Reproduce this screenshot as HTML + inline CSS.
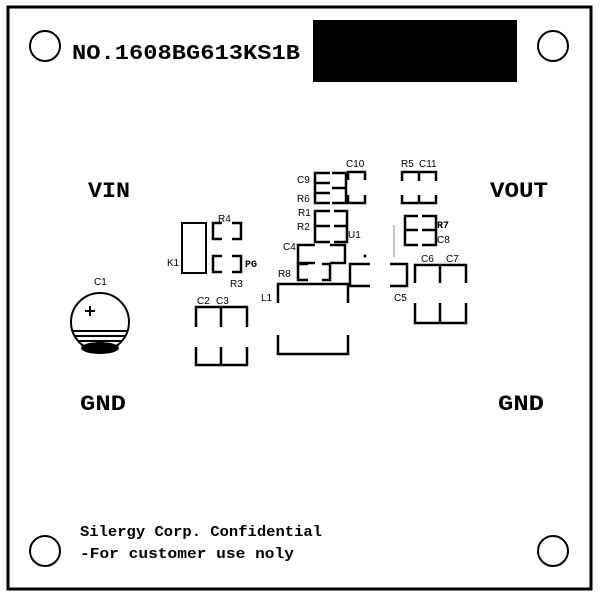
<!DOCTYPE html>
<html><head><meta charset="utf-8"><style>
html,body{margin:0;padding:0;background:#fff}
svg{display:block}
text{font-family:"Liberation Mono","DejaVu Sans Mono",monospace;font-weight:bold;fill:#000}
.s{font-family:"Liberation Sans",sans-serif;font-weight:normal;font-size:10px}
</style></head><body>
<svg width="600" height="600" viewBox="0 0 600 600" xmlns="http://www.w3.org/2000/svg">
<rect x="8" y="7" width="583" height="582" fill="none" stroke="#000" stroke-width="3"/>
<g fill="none" stroke="#000" stroke-width="2">
<circle cx="45" cy="46" r="15"/><circle cx="553" cy="46" r="15"/>
<circle cx="45" cy="551" r="15"/><circle cx="553" cy="551" r="15"/>
</g>
<rect x="313" y="20" width="204" height="62" fill="#000"/>
<text x="72" y="59" font-size="21" textLength="228" lengthAdjust="spacingAndGlyphs">NO.1608BG613KS1B</text>
<text x="88" y="197" font-size="22" textLength="42" lengthAdjust="spacingAndGlyphs">VIN</text>
<text x="490" y="197" font-size="22" textLength="58" lengthAdjust="spacingAndGlyphs">VOUT</text>
<text x="80" y="410" font-size="22" textLength="46" lengthAdjust="spacingAndGlyphs">GND</text>
<text x="498" y="410" font-size="22" textLength="46" lengthAdjust="spacingAndGlyphs">GND</text>
<text x="80" y="536" font-size="15" textLength="242" lengthAdjust="spacingAndGlyphs">Silergy Corp. Confidential</text>
<text x="80" y="558" font-size="15" textLength="214" lengthAdjust="spacingAndGlyphs">-For customer use noly</text>

<!-- C1 -->
<text class="s" x="94" y="285">C1</text>
<g fill="none" stroke="#000" stroke-width="2">
<circle cx="100" cy="322" r="29"/>
<path d="M85 311h10M90 306v10"/>
<path d="M72 331h56M74 336h52M78 341h44"/>
</g>
<ellipse cx="100" cy="348" rx="19" ry="6" fill="#000"/>

<g fill="none" stroke="#000" stroke-width="2.5">
<!-- K1 -->
<rect x="182" y="223" width="24" height="50" stroke-width="2"/>
<!-- R4 -->
<path d="M222 223h-9v16h9M232 223h9v16h-9"/>
<!-- R3 -->
<path d="M222 256h-9v16h9M232 256h9v16h-9"/>
<!-- C2 C3 -->
<path d="M196 327v-20h51v20M221 307v20M196 347v18h51v-18M221 347v18"/>
<!-- C9/R6 -->
<path d="M330 173h-15v10h15M330 193h-15v10h15M315 183v10"/>
<path d="M332 173h14v30h-14M332 188h14"/>
<!-- C10 -->
<path d="M348 180v-8h17v8M348 195v8h17v-8"/>
<!-- R1 R2 -->
<path d="M330 211h-15v31h15M315 226h15M334 211h13v31h-13M334 226h13"/>
<!-- C4 -->
<path d="M315 245h-17v18h17M330 245h15v18h-15"/>
<!-- R8 -->
<path d="M308 264h-10v16h10M322 264h8v16h-8"/>
<!-- L1 -->
<path d="M278 303v-19h70v19M278 335v19h70v-19"/>
<!-- U1 pads -->
<path d="M370 264h-20v22h20"/>
<!-- C5 -->
<path d="M390 264h17v22h-17"/>
<!-- R5 C11 -->
<path d="M402 181v-9h34v9M419 172v9M402 195v8h34v-8M419 195v8"/>
<!-- R7 C8 -->
<path d="M418 216h-13v29h13M405 230h13M422 216h14v29h-14M422 230h14"/>
<!-- C6 C7 -->
<path d="M415 283v-18h51v18M440 265v18M415 303v20h51v-20M440 303v20"/>
</g>
<line x1="394" y1="225" x2="394" y2="257" stroke="#888" stroke-width="1"/>
<circle cx="365" cy="256" r="1.5" fill="#000"/>

<g class="s">
<text class="s" x="218" y="222">R4</text>
<text class="s" x="167" y="266">K1</text>
<text class="s" x="230" y="287">R3</text>
<text x="245" y="267" font-size="10">PG</text>
<text class="s" x="197" y="304">C2</text>
<text class="s" x="216" y="304">C3</text>
<text class="s" x="346" y="167">C10</text>
<text class="s" x="297" y="183">C9</text>
<text class="s" x="297" y="202">R6</text>
<text class="s" x="298" y="216">R1</text>
<text class="s" x="297" y="230">R2</text>
<text class="s" x="348" y="238">U1</text>
<text class="s" x="283" y="250">C4</text>
<text class="s" x="278" y="277">R8</text>
<text class="s" x="261" y="301">L1</text>
<text class="s" x="394" y="301">C5</text>
<text class="s" x="401" y="167">R5</text>
<text class="s" x="419" y="167">C11</text>
<text x="437" y="228" font-size="10">R7</text>
<text class="s" x="437" y="243">C8</text>
<text class="s" x="421" y="262">C6</text>
<text class="s" x="446" y="262">C7</text>
</g>
</svg>
</body></html>
